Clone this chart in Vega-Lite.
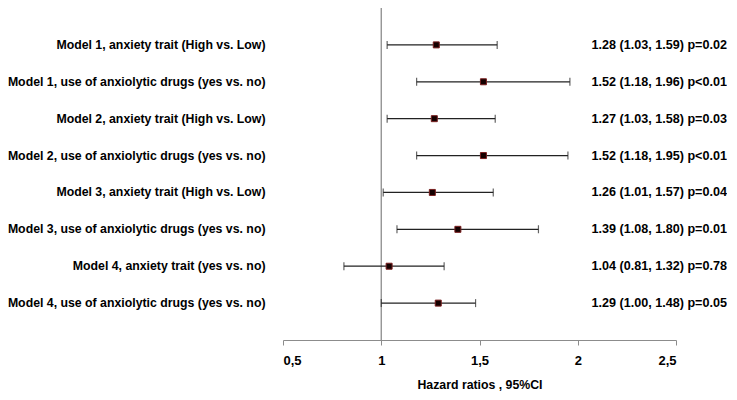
{
  "$schema": "https://vega.github.io/schema/vega-lite/v6.json",
  "width": 393,
  "height": 332,
  "padding": {"left": 7, "top": 7, "right": 0, "bottom": 5},
  "background": "white",
  "config": {"view": {"stroke": null}, "font": "Liberation Sans"},
  "data": {
    "values": [
      {"label": "Model 1, anxiety trait (High vs. Low)", "hr": 1.28, "lo": 1.03, "hi": 1.59, "txt": "1.28 (1.03, 1.59) p=0.02"},
      {"label": "Model 1, use of anxiolytic drugs (yes vs. no)", "hr": 1.52, "lo": 1.18, "hi": 1.96, "txt": "1.52 (1.18, 1.96) p<0.01"},
      {"label": "Model 2, anxiety trait (High vs. Low)", "hr": 1.27, "lo": 1.03, "hi": 1.58, "txt": "1.27 (1.03, 1.58) p=0.03"},
      {"label": "Model 2, use of anxiolytic drugs (yes vs. no)", "hr": 1.52, "lo": 1.18, "hi": 1.95, "txt": "1.52 (1.18, 1.95) p<0.01"},
      {"label": "Model 3, anxiety trait (High vs. Low)", "hr": 1.26, "lo": 1.01, "hi": 1.57, "txt": "1.26 (1.01, 1.57) p=0.04"},
      {"label": "Model 3, use of anxiolytic drugs (yes vs. no)", "hr": 1.39, "lo": 1.08, "hi": 1.80, "txt": "1.39 (1.08, 1.80) p=0.01"},
      {"label": "Model 4, anxiety trait (yes vs. no)", "hr": 1.04, "lo": 0.81, "hi": 1.32, "txt": "1.04 (0.81, 1.32) p=0.78"},
      {"label": "Model 4, use of anxiolytic drugs (yes vs. no)", "hr": 1.29, "lo": 1.00, "hi": 1.48, "txt": "1.29 (1.00, 1.48) p=0.05"}
    ]
  },
  "encoding": {
    "y": {
      "field": "label",
      "type": "nominal",
      "sort": null,
      "scale": {"paddingInner": 0, "paddingOuter": 0.5},
      "axis": {
        "title": null,
        "domain": false,
        "ticks": false,
        "labelPadding": 18,
        "labelFont": "Liberation Sans",
        "labelFontWeight": "bold",
        "labelFontSize": 12.3,
        "labelColor": "black",
        "labelLimit": 400
      }
    }
  },
  "layer": [
    {
      "data": {"values": [{"ref": 1}]},
      "mark": {"type": "rule", "color": "#8c8c8c", "strokeWidth": 1.3},
      "encoding": {"x": {"field": "ref", "type": "quantitative"}, "y": null}
    },
    {
      "mark": {"type": "rule", "color": "#222222", "strokeWidth": 1.2},
      "encoding": {
        "x": {
          "field": "lo",
          "type": "quantitative",
          "scale": {"domain": [0.5, 2.5], "nice": false, "zero": false},
          "axis": {
            "values": [0.5, 1, 1.5, 2, 2.5],
            "labelExpr": "replace(toString(datum.value), '.', ',')",
            "grid": false,
            "domainColor": "#8c8c8c",
            "tickColor": "#8c8c8c",
            "tickSize": 5,
            "labelFont": "Liberation Sans",
            "labelFontWeight": "bold",
            "labelFontSize": 13,
            "labelColor": "black",
            "labelPadding": 9,
            "title": "Hazard ratios , 95%CI",
            "titleFont": "Liberation Sans",
            "titleFontWeight": "bold",
            "titleFontSize": 12.3,
            "titleColor": "black",
            "titlePadding": 11
          }
        },
        "x2": {"field": "hi"}
      }
    },
    {
      "mark": {"type": "tick", "orient": "vertical", "color": "#222222", "size": 8, "thickness": 1.2},
      "encoding": {"x": {"field": "lo", "type": "quantitative"}}
    },
    {
      "mark": {"type": "tick", "orient": "vertical", "color": "#222222", "size": 8, "thickness": 1.2},
      "encoding": {"x": {"field": "hi", "type": "quantitative"}}
    },
    {
      "mark": {"type": "square", "filled": true, "fill": "#140000", "stroke": "#7a1f1f", "strokeWidth": 1, "size": 36, "opacity": 1},
      "encoding": {"x": {"field": "hr", "type": "quantitative"}}
    },
    {
      "mark": {"type": "text", "align": "left", "baseline": "middle", "font": "Liberation Sans", "fontWeight": "bold", "fontSize": 12.6, "color": "black"},
      "encoding": {
        "x": {"datum": 2.07, "type": "quantitative"},
        "text": {"field": "txt"}
      }
    }
  ]
}
